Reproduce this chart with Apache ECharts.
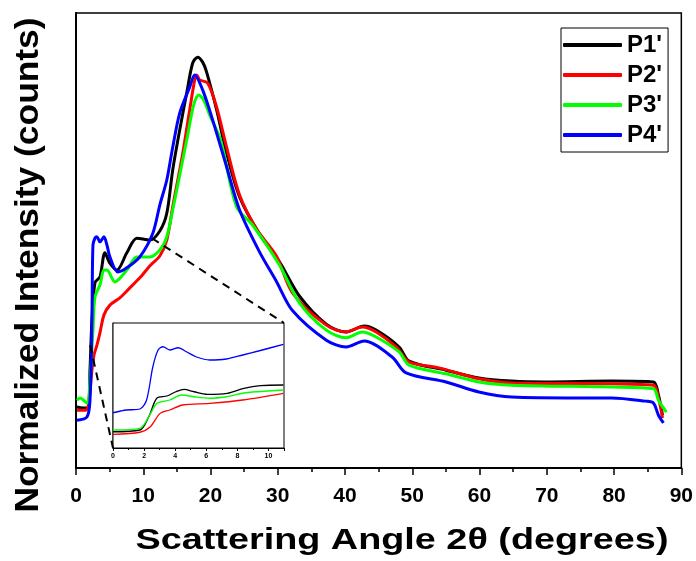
<!DOCTYPE html>
<html>
<head>
<meta charset="utf-8">
<script src="https://cdn.jsdelivr.net/npm/echarts@6/dist/echarts.min.js"></script>
<style>
  html, body { margin: 0; padding: 0; background: #fff; }
  #chart { width: 696px; height: 561px; }
</style>
</head>
<body>
<div id="chart"></div>
<script>
// Series names and colours
const seriesNames = ["P1'", "P2'", "P3'", "P4'"];
const seriesColors = ['#000000', '#ff0000', '#00ff00', '#0000ff'];

// Full scan: [2θ (degrees), normalized intensity]
const p1Main = [
  [0.15, 13.4], [1.04, 13.2], [1.78, 13.2], [2.08, 21.5], [2.37, 32.5], [2.82, 40.7],
  [3.56, 42.0], [4.3, 47.3], [5.04, 45.0], [6.08, 43.5], [7.56, 47.3], [9.05, 50.5],
  [10.97, 50.1], [12.46, 52.1], [13.5, 56.0], [14.38, 65.5], [15.42, 74.3], [16.46, 82.4],
  [17.35, 89.0], [18.09, 90.3], [18.83, 89.2], [19.42, 87.0], [20.91, 78.7], [22.39, 69.2],
  [24.32, 59.6], [27.28, 51.4], [30.25, 45.3], [33.21, 37.8], [37.2, 31.6], [40.18, 29.9],
  [42.85, 31.2], [44.63, 30.3], [48.04, 26.6], [49.53, 23.5], [55.01, 21.5], [59.9, 19.8],
  [64.8, 19.1], [69.84, 18.9], [79.63, 19.1], [85.85, 18.9], [86.6, 16.0], [87.2, 11.6]
];
const p2Main = [
  [0.15, 12.7], [1.48, 12.7], [1.93, 14.9], [2.37, 21.5], [2.67, 24.8], [3.11, 27.0],
  [3.56, 29.7], [4.15, 33.6], [5.04, 35.8], [6.52, 37.4], [8.01, 39.6], [9.49, 41.8],
  [10.97, 44.4], [12.46, 46.6], [13.5, 50.1], [14.38, 57.4], [15.87, 69.2], [16.9, 78.7],
  [17.65, 85.3], [17.94, 86.4], [18.39, 85.3], [19.57, 84.6], [20.91, 79.3], [22.39, 70.5],
  [24.32, 60.0], [26.84, 52.5], [29.8, 46.6], [32.18, 38.5], [37.22, 31.4], [40.18, 29.9],
  [42.56, 31.0], [44.63, 29.9], [47.6, 26.6], [49.53, 23.3], [53.97, 22.0], [59.9, 19.6],
  [64.8, 18.7], [79.63, 18.5], [85.85, 18.2], [86.6, 15.4], [87.2, 11.0]
];
const p3Main = [
  [0.15, 14.9], [0.59, 15.4], [1.63, 14.3], [2.08, 19.3], [2.52, 30.3], [2.82, 37.6],
  [3.56, 40.2], [4.15, 43.5], [4.6, 43.5], [5.78, 40.9], [7.56, 43.5], [9.05, 46.4],
  [10.97, 46.4], [12.46, 47.9], [13.5, 50.8], [14.38, 56.7], [15.42, 64.4], [16.46, 72.1],
  [17.5, 79.8], [18.24, 82.0], [18.98, 80.9], [19.87, 77.6], [21.5, 72.1], [23.87, 57.4],
  [26.25, 53.4], [30.25, 44.6], [33.21, 36.3], [37.22, 30.3], [40.18, 28.6], [42.56, 29.9],
  [44.63, 28.8], [48.04, 25.5], [49.53, 22.6], [55.01, 20.7], [59.9, 18.9], [64.8, 18.2],
  [79.63, 17.8], [85.85, 17.4], [86.6, 14.9], [87.78, 12.3]
];
const p4Main = [
  [0.15, 10.5], [1.63, 11.2], [2.08, 14.9], [2.37, 32.5], [2.52, 49.0], [2.82, 50.5],
  [3.11, 50.8], [3.56, 49.7], [4.15, 50.8], [4.6, 49.0], [5.04, 46.4], [6.23, 43.1],
  [7.56, 44.0], [9.49, 46.4], [11.42, 51.6], [12.46, 57.8], [13.5, 63.3], [14.38, 70.5],
  [15.42, 78.0], [16.9, 83.7], [17.65, 86.4], [18.83, 83.1], [20.31, 76.5], [22.39, 66.2],
  [24.32, 56.7], [27.28, 47.5], [29.8, 41.0], [32.18, 34.6], [37.22, 28.1], [40.18, 26.6],
  [42.85, 27.9], [47.0, 24.4], [49.08, 20.9], [55.01, 18.9], [59.9, 16.7], [64.8, 15.6],
  [74.73, 15.4], [79.63, 15.4], [84.67, 14.7], [85.85, 14.3], [86.6, 11.6], [87.35, 9.9]
];

// Low-angle detail, 0–11°
const p1Inset = [
  [0, 13.0], [1.73, 14.4], [2.3, 25.0], [2.83, 40.0], [3.47, 41.6], [4.04, 45.0],
  [4.57, 46.9], [5.21, 45.0], [6.07, 42.9], [7.35, 43.7], [8.42, 47.7], [9.49, 49.9], [10.96, 50.4]
];
const p2Inset = [
  [0, 10.9], [1.73, 12.6], [2.4, 17.0], [3.03, 27.7], [3.65, 30.4], [4.49, 34.4],
  [6.22, 35.7], [8.35, 38.4], [10.96, 43.7]
];
const p3Inset = [
  [0, 14.4], [1.73, 15.7], [2.3, 25.0], [2.83, 35.7], [3.65, 38.4], [4.4, 42.4],
  [5.21, 41.0], [6.22, 39.8], [7.29, 41.0], [8.55, 44.2], [10.96, 46.4]
];
const p4Inset = [
  [0, 28.2], [0.5, 29.6], [0.86, 30.4], [1.73, 31.2], [2.16, 38.4], [2.56, 64.8], [2.9, 78.4],
  [3.22, 81.0], [3.65, 78.4], [4.19, 80.2], [4.72, 77.0], [5.37, 72.8], [6.22, 70.4],
  [7.29, 71.2], [8.35, 74.4], [9.42, 77.8], [10.96, 82.9]
];

// Zoom connectors: a point on the main curves joined to an inset corner
const zoomFromHigh = [11.3, 50.5];
const zoomFromLow = [2.1, 27.0];

const mainData = [p1Main, p2Main, p3Main, p4Main];
const insetData = [p1Inset, p2Inset, p3Inset, p4Inset];

const FONT = 'Liberation Sans, Arial, sans-serif';

const chart = echarts.init(document.getElementById('chart'), null, { renderer: 'canvas' });

const series = [];
mainData.forEach((d, i) => {
  series.push({
    name: seriesNames[i], type: 'line', xAxisIndex: 0, yAxisIndex: 0,
    data: d, showSymbol: false, smooth: 0.3, z: 2 + i,
    lineStyle: { color: seriesColors[i], width: 3 }, itemStyle: { color: seriesColors[i] }
  });
});
insetData.forEach((d, i) => {
  series.push({
    name: seriesNames[i], type: 'line', xAxisIndex: 1, yAxisIndex: 1,
    data: d, showSymbol: false, smooth: 0.3, z: 12 + i,
    lineStyle: { color: seriesColors[i], width: 1.3 }, itemStyle: { color: seriesColors[i] }
  });
});

const option = {
  animation: false,
  backgroundColor: '#ffffff',
  grid: [
    { left: 76, right: 14, top: 13, bottom: 93, show: true, borderColor: '#000', borderWidth: 1.5, backgroundColor: 'transparent' },
    { left: 113, top: 323, width: 171, height: 125, show: true, borderColor: '#000', borderWidth: 1, backgroundColor: '#fff', z: 10 }
  ],
  xAxis: [
    {
      gridIndex: 0, type: 'value', min: 0, max: 90, interval: 10,
      axisLine: { show: true, lineStyle: { color: '#000', width: 2 } },
      axisTick: { show: true, length: 7, lineStyle: { color: '#000', width: 1.5 } },
      minorTick: { show: true, splitNumber: 2, length: 4, lineStyle: { color: '#000', width: 1.5 } },
      splitLine: { show: false },
      axisLabel: { color: '#000', fontFamily: FONT, fontWeight: 'bold', fontSize: 21, margin: 18 }
    },
    {
      gridIndex: 1, type: 'value', min: 0, max: 11, interval: 2,
      axisLine: { show: true, lineStyle: { color: '#000', width: 1 } },
      axisTick: { show: true, length: 3, lineStyle: { color: '#000', width: 1 } },
      minorTick: { show: true, splitNumber: 2, length: 2, lineStyle: { color: '#000', width: 1 } },
      splitLine: { show: false },
      axisLabel: { color: '#000', fontFamily: FONT, fontWeight: 'bold', fontSize: 7, margin: 5, showMaxLabel: false }
    }
  ],
  yAxis: [
    {
      gridIndex: 0, type: 'value', min: 0, max: 100,
      axisLine: { show: true, lineStyle: { color: '#000', width: 2 } },
      axisTick: { show: false }, axisLabel: { show: false }, splitLine: { show: false }
    },
    {
      gridIndex: 1, type: 'value', min: 0, max: 100,
      axisLine: { show: true, lineStyle: { color: '#666', width: 1.5 } },
      axisTick: { show: false }, axisLabel: { show: false }, splitLine: { show: false }
    }
  ],
  legend: {
    data: seriesNames.map((n, i) => ({ name: n, itemStyle: { color: seriesColors[i] } })),
    orient: 'vertical', left: 561, top: 28,
    icon: 'roundRect', itemWidth: 59, itemHeight: 4, itemGap: 6,
    padding: [5, 6, 5, 2],
    borderColor: '#000', borderWidth: 1, backgroundColor: '#fff',
    selectedMode: false,
    textStyle: { color: '#000', fontFamily: FONT, fontWeight: 'bold', fontSize: 24 }
  },
  series: series,
  graphic: [
    {
      id: 'xTitle', type: 'text', x: 402, y: 541, scaleX: 1.26, z: 50,
      style: { text: 'Scattering Angle 2θ (degrees)', fill: '#000', font: 'bold 30px ' + FONT, textAlign: 'center', textVerticalAlign: 'middle' }
    },
    {
      id: 'yTitle', type: 'text', x: 29, y: 265, rotation: Math.PI / 2, scaleX: 1.04, z: 50,
      style: { text: 'Normalized Intensity (counts)', fill: '#000', font: 'bold 34px ' + FONT, textAlign: 'center', textVerticalAlign: 'middle' }
    }
  ]
};

chart.setOption(option);

// Dashed connectors from the main curves to the inset corners
const hiFrom = chart.convertToPixel({ gridIndex: 0 }, zoomFromHigh);
const hiTo = chart.convertToPixel({ gridIndex: 1 }, [11, 100]);
const loFrom = chart.convertToPixel({ gridIndex: 0 }, zoomFromLow);
const loTo = chart.convertToPixel({ gridIndex: 1 }, [0, 0]);
const dashStyle = { stroke: '#000', lineWidth: 2, lineDash: [8, 6] };
chart.setOption({
  graphic: [
    { id: 'zoomHi', type: 'line', z: 20, shape: { x1: hiFrom[0], y1: hiFrom[1], x2: hiTo[0], y2: hiTo[1] }, style: dashStyle },
    { id: 'zoomLo', type: 'line', z: 20, shape: { x1: loFrom[0], y1: loFrom[1], x2: loTo[0], y2: loTo[1] }, style: dashStyle }
  ]
});
</script>
</body>
</html>
